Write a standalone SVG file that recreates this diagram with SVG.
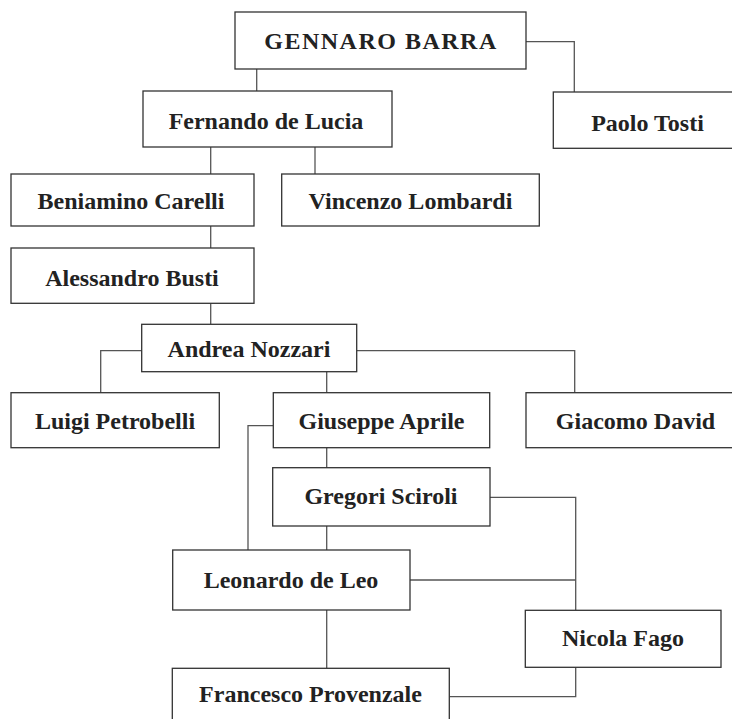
<svg xmlns="http://www.w3.org/2000/svg" width="732" height="719" viewBox="0 0 732 719">
  <style>
    .box { fill: #ffffff; stroke: #333333; stroke-width: 1.3; }
    .lbl { font-family: "Liberation Serif", "Times New Roman", serif; font-weight: bold; font-size: 24px; fill: #222222; text-anchor: middle; }
    .conn { fill: none; stroke: #555555; stroke-width: 1.3; }
  </style>
  <rect width="732" height="719" fill="#ffffff"/>
  <g id="connectors">
    <path class="conn" d="M256.7 69 V91"/>
    <path class="conn" d="M526 41.7 H574.3 V92"/>
    <path class="conn" d="M210.7 147 V174"/>
    <path class="conn" d="M315 147 V174"/>
    <path class="conn" d="M210.7 226 V248"/>
    <path class="conn" d="M210.7 303.3 V324.3"/>
    <path class="conn" d="M141.7 350.7 H100.7 V392.7"/>
    <path class="conn" d="M326.7 371.7 V392.7"/>
    <path class="conn" d="M356.7 350.7 H574.7 V392.7"/>
    <path class="conn" d="M326.7 447.7 V467.7"/>
    <path class="conn" d="M273.3 425.7 H248 V550"/>
    <path class="conn" d="M326.7 526 V550"/>
    <path class="conn" d="M490 497.3 H575.7 V610.3"/>
    <path class="conn" d="M410 580 H575.7"/>
    <path class="conn" d="M326.7 610 V668.3"/>
    <path class="conn" d="M575.7 667.3 V696.7 H449.3"/>
  </g>
  <g id="gennaro-barra">
    <rect class="box" x="235" y="12" width="291" height="57"/>
    <text class="lbl" x="381" y="49" letter-spacing="1.5">GENNARO BARRA</text>
  </g>
  <g id="paolo-tosti">
    <rect class="box" x="553.3" y="92" width="190" height="56.3"/>
    <text class="lbl" x="647.5" y="131">Paolo Tosti</text>
  </g>
  <g id="fernando-de-lucia">
    <rect class="box" x="143" y="91" width="249" height="56"/>
    <text class="lbl" x="266" y="129.3">Fernando de Lucia</text>
  </g>
  <g id="beniamino-carelli">
    <rect class="box" x="11" y="174" width="243" height="52"/>
    <text class="lbl" x="131" y="209.3">Beniamino Carelli</text>
  </g>
  <g id="vincenzo-lombardi">
    <rect class="box" x="281.7" y="174" width="257.6" height="52"/>
    <text class="lbl" x="410.5" y="209.3">Vincenzo Lombardi</text>
  </g>
  <g id="alessandro-busti">
    <rect class="box" x="11" y="248" width="243" height="55.3"/>
    <text class="lbl" x="132" y="286">Alessandro Busti</text>
  </g>
  <g id="andrea-nozzari">
    <rect class="box" x="141.7" y="324.3" width="215" height="47.4"/>
    <text class="lbl" x="249" y="356.7">Andrea Nozzari</text>
  </g>
  <g id="luigi-petrobelli">
    <rect class="box" x="11" y="392.7" width="208.3" height="55"/>
    <text class="lbl" x="115" y="429.3">Luigi Petrobelli</text>
  </g>
  <g id="giuseppe-aprile">
    <rect class="box" x="273.3" y="392.7" width="216.4" height="55"/>
    <text class="lbl" x="381.5" y="429.3">Giuseppe Aprile</text>
  </g>
  <g id="giacomo-david">
    <rect class="box" x="526" y="392.7" width="220" height="55"/>
    <text class="lbl" x="635.5" y="429.3">Giacomo David</text>
  </g>
  <g id="gregori-sciroli">
    <rect class="box" x="272.7" y="467.7" width="217.3" height="58.3"/>
    <text class="lbl" x="381" y="504">Gregori Sciroli</text>
  </g>
  <g id="leonardo-de-leo">
    <rect class="box" x="172.7" y="550" width="237.3" height="60"/>
    <text class="lbl" x="291" y="588.3">Leonardo de Leo</text>
  </g>
  <g id="nicola-fago">
    <rect class="box" x="525.3" y="610.3" width="195.7" height="57"/>
    <text class="lbl" x="623" y="646">Nicola Fago</text>
  </g>
  <g id="francesco-provenzale">
    <rect class="box" x="172.3" y="668.3" width="277" height="60"/>
    <text class="lbl" x="310.5" y="701.7">Francesco Provenzale</text>
  </g>
</svg>
